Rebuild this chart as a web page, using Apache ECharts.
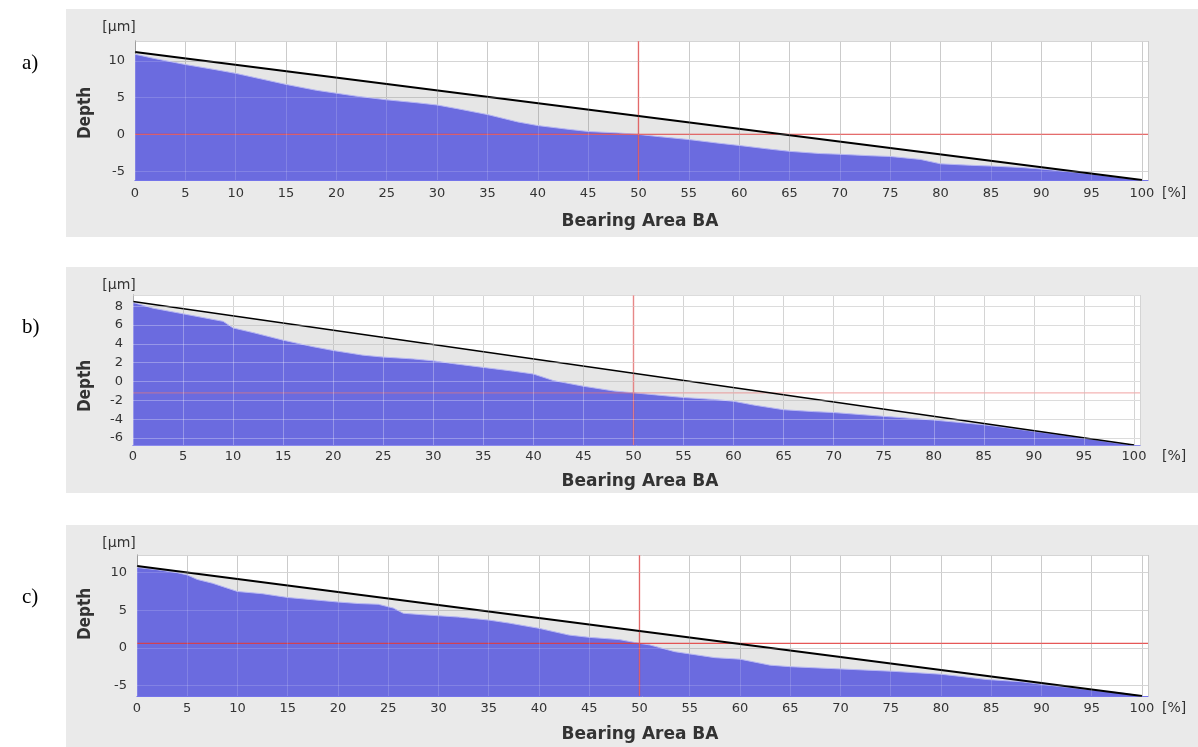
<!DOCTYPE html>
<html><head><meta charset="utf-8">
<script src="https://cdn.jsdelivr.net/npm/echarts@6/dist/echarts.min.js"></script>
<style>html,body{margin:0;padding:0;background:#fff}#c{width:1198px;height:747px}</style>
</head><body><div id="c"></div>
<script>
// ---------- data ----------
const bearingA = [0,2,5,8,10,12,15,18,20,22,25,28,30,32,35,38,40,43,45,48,50,52,55,58,60,63,65,68,70,73,75,78,80,83,85,88,90,93,95,98,100];
const depthA   = [10.9,10.3,9.5,8.8,8.3,7.7,6.8,6.0,5.6,5.2,4.7,4.3,4.0,3.5,2.7,1.7,1.2,0.7,0.4,0.2,0.0,-0.3,-0.7,-1.2,-1.5,-2.0,-2.3,-2.6,-2.7,-2.9,-3.0,-3.4,-4.0,-4.2,-4.3,-4.5,-4.7,-5.1,-5.4,-5.9,-6.2];
const bearingB = [0,2,5,8,9,10,12,15,18,20,23,25,28,30,32,35,38,40,42,45,48,50,52,55,58,60,62,65,68,70,75,80,85,88,90,93,95,98,100];
const depthB   = [8.4,7.8,7.2,6.6,6.4,5.7,5.2,4.4,3.7,3.3,2.8,2.6,2.4,2.2,1.9,1.5,1.1,0.8,0.1,-0.5,-1.0,-1.2,-1.4,-1.7,-1.9,-2.1,-2.5,-3.0,-3.2,-3.3,-3.7,-4.1,-4.6,-5.0,-5.3,-5.7,-6.0,-6.5,-6.75];
const bearingC = [0,2,4,5,6,7.5,10,12.5,15,17.5,20,22,24,25.5,26.5,28.5,32,35,37,40,43,45,48,50,51,53.5,55,57.5,60,63,65,70,75,80,82,84.5,88,91,95,98,100];
const depthC   = [10.7,10.4,10.0,9.7,9.1,8.6,7.5,7.2,6.7,6.4,6.1,5.9,5.8,5.3,4.6,4.4,4.1,3.7,3.3,2.6,1.7,1.4,1.1,0.6,0.4,-0.5,-0.8,-1.3,-1.5,-2.3,-2.5,-2.8,-3.1,-3.5,-3.8,-4.2,-4.5,-5.0,-5.6,-6.0,-6.4];
// reference (Abbott) line end points: [BA, depth]
const lineA = [[0, 11.2], [100, -6.2]];
const lineB = [[0, 8.5], [100, -6.75]];
const lineC = [[0, 10.9], [100, -6.4]];
// red cursor: bearing 50 %, depth at that bearing
const cursorA = [50, 0.0];
const cursorB = [50, -1.2];
const cursorC = [50, 0.6];
// axis ranges and tick steps
const yRangeA = [-6.2, 12.7], yStepA = 5;
const yRangeB = [-6.75, 9.2], yStepB = 2;
const yRangeC = [-6.4, 12.35], yStepC = 5;
const xRange = [0, 100.6], xStep = 5;
const panelLabels = ['a)', 'b)', 'c)'];
const xTitle = 'Bearing Area BA', yTitle = 'Depth', yUnit = '[µm]', xUnit = '[%]';

// ---------- layout ----------
const layout = [
  {grid:{left:135, top:41, right:50, height:139}, bg:[66,9,1132,228], tag:63, unit:27, depthY:113, titleY:222, pctY:193, lw:2, xm:7, redV:'rgba(226,58,58,0.85)', redH:'rgba(226,58,58,0.85)', over:0.16},
  {grid:{left:133, top:295, right:58, height:150}, bg:[66,267,1132,226], tag:327, unit:285, depthY:386, titleY:482, pctY:456, lw:1.5, xm:5, redV:'rgba(226,58,58,0.8)', redH:'rgba(235,120,120,0.55)', over:0.3},
  {grid:{left:137, top:555, right:50, height:141}, bg:[66,525,1132,222], tag:597, unit:543, depthY:614, titleY:735, pctY:708, lw:2, xm:6, redV:'rgba(226,58,58,0.85)', redH:'rgba(226,58,58,0.85)', over:0.16}
];
const dataSets = [
  {ba:bearingA, d:depthA, line:lineA, cur:cursorA, yr:yRangeA, ys:yStepA},
  {ba:bearingB, d:depthB, line:lineB, cur:cursorB, yr:yRangeB, ys:yStepB},
  {ba:bearingC, d:depthC, line:lineC, cur:cursorC, yr:yRangeC, ys:yStepC}
];

const tickFont = '"DejaVu Sans", Verdana, sans-serif';
const isMult = (v, s) => Math.abs(v / s - Math.round(v / s)) < 1e-6;

const grid = [], xAxis = [], yAxis = [], series = [], graphics = [];
layout.forEach((L, i) => {
  const D = dataSets[i];
  grid.push(Object.assign({show:true, backgroundColor:'#ffffff', borderWidth:0}, L.grid));
  const xi = xAxis.length, yi = yAxis.length;
  xAxis.push({
    type:'value', gridIndex:i, min:xRange[0], max:xRange[1], interval:xStep, position:'bottom',
    axisLine:{show:true, onZero:false, lineStyle:{color:'#5a5ae6', width:1}},
    axisTick:{show:false},
    axisLabel:{margin:L.xm, color:'#333', fontSize:13, fontFamily:tickFont,
      formatter:v => isMult(v, xStep) ? String(v) : ''},
    splitLine:{show:true, lineStyle:{color:'#c2c2c2', width:1}}
  });
  yAxis.push({
    type:'value', gridIndex:i, min:D.yr[0], max:D.yr[1], position:'left',
    splitNumber:Math.round((D.yr[1]-D.yr[0])/D.ys),
    axisLine:{show:true, onZero:false, lineStyle:{color:'#8a8a8a', width:1}},
    axisTick:{show:false},
    axisLabel:{margin:10, color:'#333', fontSize:13, fontFamily:tickFont,
      formatter:v => isMult(v, D.ys) ? String(Math.round(v)) : ''},
    splitLine:{show:true, lineStyle:{color:'#cdcdcd', width:1}}
  });
  // overlay axes: light grid lines drawn over the filled areas
  xAxis.push({
    type:'value', gridIndex:i, min:xRange[0], max:xRange[1], interval:xStep, position:'top', z:10,
    axisLine:{show:false}, axisTick:{show:false}, axisLabel:{show:false},
    splitLine:{show:true, lineStyle:{color:'rgba(255,255,255,' + L.over + ')', width:1}}
  });
  yAxis.push({
    type:'value', gridIndex:i, min:D.yr[0], max:D.yr[1], position:'right', z:10,
    splitNumber:Math.round((D.yr[1]-D.yr[0])/D.ys),
    axisLine:{show:false}, axisTick:{show:false}, axisLabel:{show:false},
    splitLine:{show:true, lineStyle:{color:'rgba(255,255,255,' + L.over + ')', width:1}}
  });
  // grey area under the reference line
  series.push({
    type:'line', xAxisIndex:xi, yAxisIndex:yi, data:D.line, symbol:'none', silent:true, z:2,
    lineStyle:{width:0}, areaStyle:{color:'rgba(0,0,0,0.14)', origin:'start'}
  });
  // blue bearing-area curve
  series.push({
    type:'line', xAxisIndex:xi, yAxisIndex:yi, data:D.ba.map((x, k) => [x, D.d[k]]), symbol:'none', silent:true, z:3,
    lineStyle:{color:'#b8b8f2', width:1}, areaStyle:{color:'#6b6bdf', opacity:1, origin:'start'}
  });
  // red cursor lines (vertical at the bearing, horizontal at the depth)
  series.push({
    type:'line', xAxisIndex:xi, yAxisIndex:yi, data:[[D.cur[0], D.yr[0]], [D.cur[0], D.yr[1]]], symbol:'none', silent:true, z:4,
    lineStyle:{color:L.redV, width:1.3}
  });
  series.push({
    type:'line', xAxisIndex:xi, yAxisIndex:yi, data:[[xRange[0], D.cur[1]], [xRange[1], D.cur[1]]], symbol:'none', silent:true, z:4,
    lineStyle:{color:L.redH, width:1.3}
  });
  // black reference line
  series.push({
    type:'line', xAxisIndex:xi, yAxisIndex:yi, data:D.line, symbol:'none', silent:true, z:5,
    lineStyle:{color:'#000', width:L.lw}
  });
  const b = L.bg;
  graphics.push({type:'rect', z:-100, shape:{x:b[0], y:b[1], width:b[2], height:b[3]}, style:{fill:'#eaeaea'}});
  graphics.push({type:'text', z:10, style:{text:panelLabels[i], x:22, y:L.tag, verticalAlign:'middle', font:'21px "Liberation Serif", "Times New Roman", serif', fill:'#000'}});
  graphics.push({type:'text', z:10, style:{text:yUnit, x:119, y:L.unit, align:'center', verticalAlign:'middle', font:'14px ' + tickFont, fill:'#333'}});
  graphics.push({type:'text', z:10, x:86, y:L.depthY, rotation:Math.PI/2, style:{text:yTitle, x:0, y:0, align:'center', verticalAlign:'middle', font:'bold 17px "Liberation Sans Narrow", "DejaVu Sans Condensed", "Liberation Sans", sans-serif', fill:'#333'}});
  graphics.push({type:'text', z:10, style:{text:xTitle, x:640, y:L.titleY, align:'center', verticalAlign:'middle', font:'bold 17px ' + tickFont, fill:'#333'}});
  graphics.push({type:'text', z:10, style:{text:xUnit, x:1162, y:L.pctY, verticalAlign:'middle', font:'14px ' + tickFont, fill:'#333'}});
});

const chart = echarts.init(document.getElementById('c'), null, {renderer:'canvas'});
chart.setOption({
  backgroundColor:'#ffffff', animation:false,
  grid, xAxis, yAxis, series,
  graphic:{elements:graphics}
});
</script></body></html>
